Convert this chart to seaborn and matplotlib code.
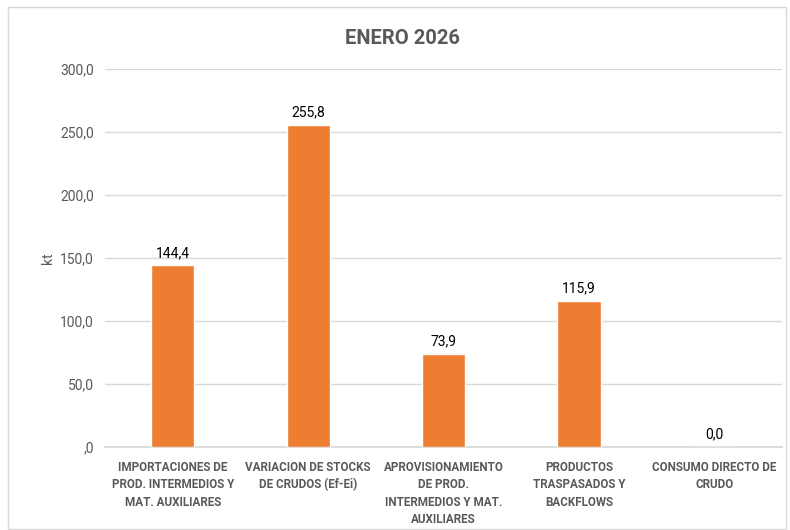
import numpy as np
import pandas as pd
import seaborn as sns
import matplotlib.pyplot as plt
from matplotlib.patches import Rectangle

# Data
categories = [
    "IMPORTACIONES DE\nPROD. INTERMEDIOS Y\nMAT. AUXILIARES",
    "VARIACION DE STOCKS\nDE CRUDOS (Ef-Ei)",
    "APROVISIONAMIENTO\nDE PROD.\nINTERMEDIOS Y MAT.\nAUXILIARES",
    "PRODUCTOS\nTRASPASADOS Y\nBACKFLOWS",
    "CONSUMO DIRECTO DE\nCRUDO",
]
values = [144.4, 255.8, 73.9, 115.9, 0.0]
yticks = [0, 50, 100, 150, 200, 250, 300]

df = pd.DataFrame({"cat": categories, "kt": values})

sns.set_theme(style="white")
plt.rcParams['font.family'] = ['Roboto', 'DejaVu Sans']

fig = plt.figure(figsize=(7.9, 5.3), dpi=100)
ax = fig.add_axes([0.133, 0.157, 0.857, 0.713])

sns.barplot(data=df, x="cat", y="kt", color="#ED7D31", width=0.32,
            saturation=1, ax=ax, zorder=3)

def fmt(v):
    s = f"{v:.1f}".replace(".", ",")
    return s[1:] if s.startswith("0,") and v == 0 else s

ax.set_ylim(0, 300)
ax.set_yticks(yticks)
ax.set_yticklabels([fmt(t) for t in yticks], color="#595959", fontsize=10)
ax.grid(axis="y", color="#D9D9D9", linewidth=1, zorder=0)
for s in ["top", "right", "left"]:
    ax.spines[s].set_visible(False)
ax.spines["bottom"].set_color("#D9D9D9")
ax.tick_params(axis="both", length=0, pad=8)
ax.tick_params(axis="x", pad=10)
ax.set_xticklabels(categories, color="#595959", fontsize=8.4,
                   fontweight="bold", linespacing=1.45, va="top")

for i, v in enumerate(values):
    ax.text(i, v + 4, f"{v:.1f}".replace(".", ","), ha="center", va="bottom",
            fontsize=10, color="#000000")

ax.set_xlabel("")
ax.set_ylabel("kt", color="#595959", fontsize=10, labelpad=4)
fig.text(0.51, 0.928, "ENERO 2026", ha="center", va="center",
         fontsize=14.5, fontweight="bold", color="#595959")

fig.patches.append(Rectangle((8 / 790, 0.002), 0.985, 0.985, transform=fig.transFigure,
                             fill=False, edgecolor="#D9D9D9", linewidth=1))

fig.savefig("out.png", dpi=100)
plt.close()
